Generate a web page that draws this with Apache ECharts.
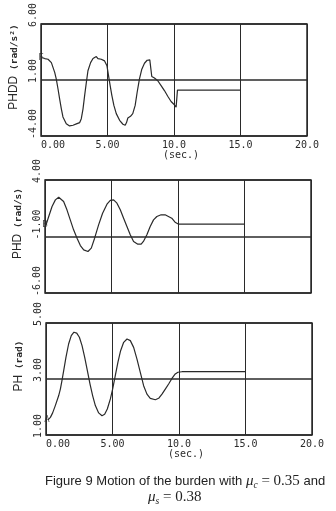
<!DOCTYPE html>
<html><head><meta charset="utf-8">
<script src="https://cdn.jsdelivr.net/npm/echarts@6/dist/echarts.min.js"></script>
<style>html,body{margin:0;padding:0;background:#fff}#c{width:336px;height:511px}</style>
</head><body><div id="c"></div>
<script>
// ---- data ----
const xTicks = [0, 5, 10, 15, 20];
const phddT = [0.08,0.28,0.53,0.78,1.03,1.15,1.28,1.4,1.53,1.65,1.9,2.15,2.41,2.66,2.91,3.03,3.16,3.28,3.41,3.53,3.73,3.91,4.16,4.28,4.53,4.78,4.96,5.08,5.2,5.33,5.48,5.66,5.91,6.16,6.33,6.43,6.53,6.73,6.9,7.08,7.23,7.4,7.58,7.78,7.98,8.18,8.28,8.33,8.53,8.78,9.03,9.28,9.53,9.78,10.03,10.16,10.22,10.26,15.0];
const phddV = [3.0,2.92,2.86,2.56,1.68,1.09,0.2,-0.68,-1.57,-2.3,-2.9,-3.1,-3.04,-2.92,-2.8,-2.45,-1.57,-0.39,0.79,1.83,2.56,2.92,3.1,2.92,2.86,2.71,2.27,1.38,0.5,-0.39,-1.27,-2.0,-2.6,-2.95,-3.04,-2.8,-2.39,-2.24,-2.0,-1.27,-0.09,1.09,1.97,2.5,2.77,2.8,2.8,1.32,1.18,0.94,0.5,0.06,-0.45,-0.92,-1.21,-1.42,-1.35,0.1,0.1];
const phdT = [0.08,0.28,0.53,0.78,1.03,1.15,1.4,1.65,1.9,2.15,2.41,2.66,2.91,3.23,3.48,3.73,4.03,4.33,4.66,4.91,5.16,5.41,5.66,5.91,6.16,6.41,6.66,6.98,7.23,7.4,7.66,7.91,8.16,8.41,8.73,9.03,9.28,9.53,9.78,9.9,10.05,15.0];
const phdV = [0.03,0.77,1.65,2.24,2.48,2.45,2.1,1.36,0.47,-0.41,-1.15,-1.8,-2.18,-2.33,-2.03,-1.15,0.03,1.06,1.86,2.19,2.24,1.95,1.36,0.62,-0.12,-0.85,-1.44,-1.68,-1.68,-1.44,-0.85,-0.12,0.47,0.77,0.92,0.92,0.77,0.62,0.27,0.12,0.09,0.09];
const phT = [0.15,0.33,0.5,0.7,0.95,1.08,1.2,1.33,1.5,1.7,1.9,2.1,2.31,2.51,2.71,2.91,3.11,3.31,3.51,3.71,3.96,4.21,4.41,4.61,4.84,5.01,5.21,5.41,5.61,5.84,6.09,6.34,6.59,6.84,7.09,7.34,7.59,7.84,8.22,8.47,8.72,8.97,9.22,9.47,9.72,9.92,10.22,15.0];
const phV = [1.54,1.63,1.79,2.05,2.4,2.64,2.94,3.3,3.77,4.25,4.55,4.67,4.64,4.49,4.19,3.77,3.3,2.82,2.4,2.05,1.79,1.69,1.74,1.93,2.29,2.64,3.12,3.6,4.01,4.31,4.43,4.37,4.13,3.71,3.24,2.76,2.46,2.31,2.26,2.31,2.46,2.64,2.82,3.02,3.18,3.24,3.26,3.26];
const yRanges = [[-4, 6, 5], [-6, 4, 5], [1, 5, 2]];
const yNames = [['PHDD', '(rad/s\u00B2)'], ['PHD', '(rad/s)'], ['PH', '(rad)']];
const startMarks = ['F', 'B', 'A'];
const captionText = ['Figure 9 Motion of the burden with ', '\u03BC', 'c', ' = 0.35 ', 'and', 's', ' = 0.38'];

// ---- chart ----
const INK = '#2a2a2a';
const MONO = 'DejaVu Sans Mono';
const pair = (t, v) => t.map((x, i) => [x, v[i]]);
const seriesData = [pair(phddT, phddV), pair(phdT, phdV), pair(phT, phV)];
const grids = [
  {left: 41, right: 29, top: 23, height: 113},
  {left: 45, right: 25, top: 180, height: 113},
  {left: 46, right: 24, top: 323, height: 112}
].map(g => Object.assign(g, {show: true, borderColor: INK, borderWidth: 1.5, backgroundColor: '#fff'}));

const xAxes = [0, 1, 2].map(i => ({
  type: 'value', gridIndex: i, min: xTicks[0], max: xTicks[xTicks.length - 1], interval: 5,
  axisLine: {show: false}, axisTick: {show: false},
  splitLine: {show: true, lineStyle: {color: INK, width: 1}},
  axisLabel: {show: i !== 1, color: INK, fontFamily: MONO, fontSize: 10, margin: 4, alignMinLabel: 'left',
    formatter: v => v < 10 ? v.toFixed(2) : v.toFixed(1)},
  name: i !== 1 ? '(sec.)' : '', nameLocation: 'middle', nameGap: 14,
  nameTextStyle: {color: INK, fontFamily: MONO, fontSize: 10, padding: [0, 0, 0, 14]}
}));

const yAxes = [0, 1, 2].map(i => ({
  type: 'value', gridIndex: i, min: yRanges[i][0], max: yRanges[i][1], interval: yRanges[i][2],
  axisLine: {show: false}, axisTick: {show: false},
  splitLine: {show: true, lineStyle: {color: INK, width: 1.6}},
  axisLabel: {color: INK, fontFamily: MONO, fontSize: 10, rotate: 90, align: 'left', verticalAlign: 'bottom', margin: 3,
    padding: [0, 0, 0, -3], formatter: v => v.toFixed(2)},
  name: '{a|' + yNames[i][0] + '}{b| ' + yNames[i][1] + '}', nameLocation: 'middle', nameRotate: 90, nameGap: 12,
  nameTextStyle: {color: INK, padding: [0, 0, 0, 26],
    rich: {a: {fontFamily: 'Liberation Sans', fontSize: 12, color: INK},
           b: {fontFamily: MONO, fontSize: 9.5, fontWeight: 'bold', color: INK}}}
}));

const series = [];
[0, 1, 2].forEach(i => {
  series.push({type: 'line', xAxisIndex: i, yAxisIndex: i, data: seriesData[i], showSymbol: false, symbol: 'none',
    smooth: false, lineStyle: {color: INK, width: 1.2}, silent: true, animation: false});
  series.push({type: 'scatter', xAxisIndex: i, yAxisIndex: i, data: [seriesData[i][0]], symbolSize: 1,
    itemStyle: {color: 'rgba(0,0,0,0)'}, silent: true, animation: false,
    label: {show: true, position: 'inside', formatter: startMarks[i], color: INK, fontFamily: MONO, fontSize: 9, offset: [-1, 0]}});
});

const rich = {
  t: {fontFamily: 'Liberation Sans', fontSize: 13, fill: '#222'},
  m: {fontFamily: 'Liberation Serif', fontStyle: 'italic', fontSize: 15, fill: '#222'},
  s: {fontFamily: 'Liberation Serif', fontStyle: 'italic', fontSize: 9.5, fill: '#222', padding: [7, 0, 0, 0]},
  n: {fontFamily: 'Liberation Serif', fontSize: 15, fill: '#222'}
};

const chart = echarts.init(document.getElementById('c'), null, {renderer: 'canvas'});
chart.setOption({
  backgroundColor: '#fff', animation: false,
  grid: grids, xAxis: xAxes, yAxis: yAxes, series: series,
  graphic: [
    {type: 'text', left: 45, top: 474, style: {
      text: '{t|' + captionText[0] + '}{m|' + captionText[1] + '}{s|' + captionText[2] + '}{n|' + captionText[3] + '}{t|' + captionText[4] + '}',
      rich: rich}},
    {type: 'text', left: 148, top: 490, style: {
      text: '{m|' + captionText[1] + '}{s|' + captionText[5] + '}{n|' + captionText[6] + '}',
      rich: rich}}
  ]
});
</script></body></html>
